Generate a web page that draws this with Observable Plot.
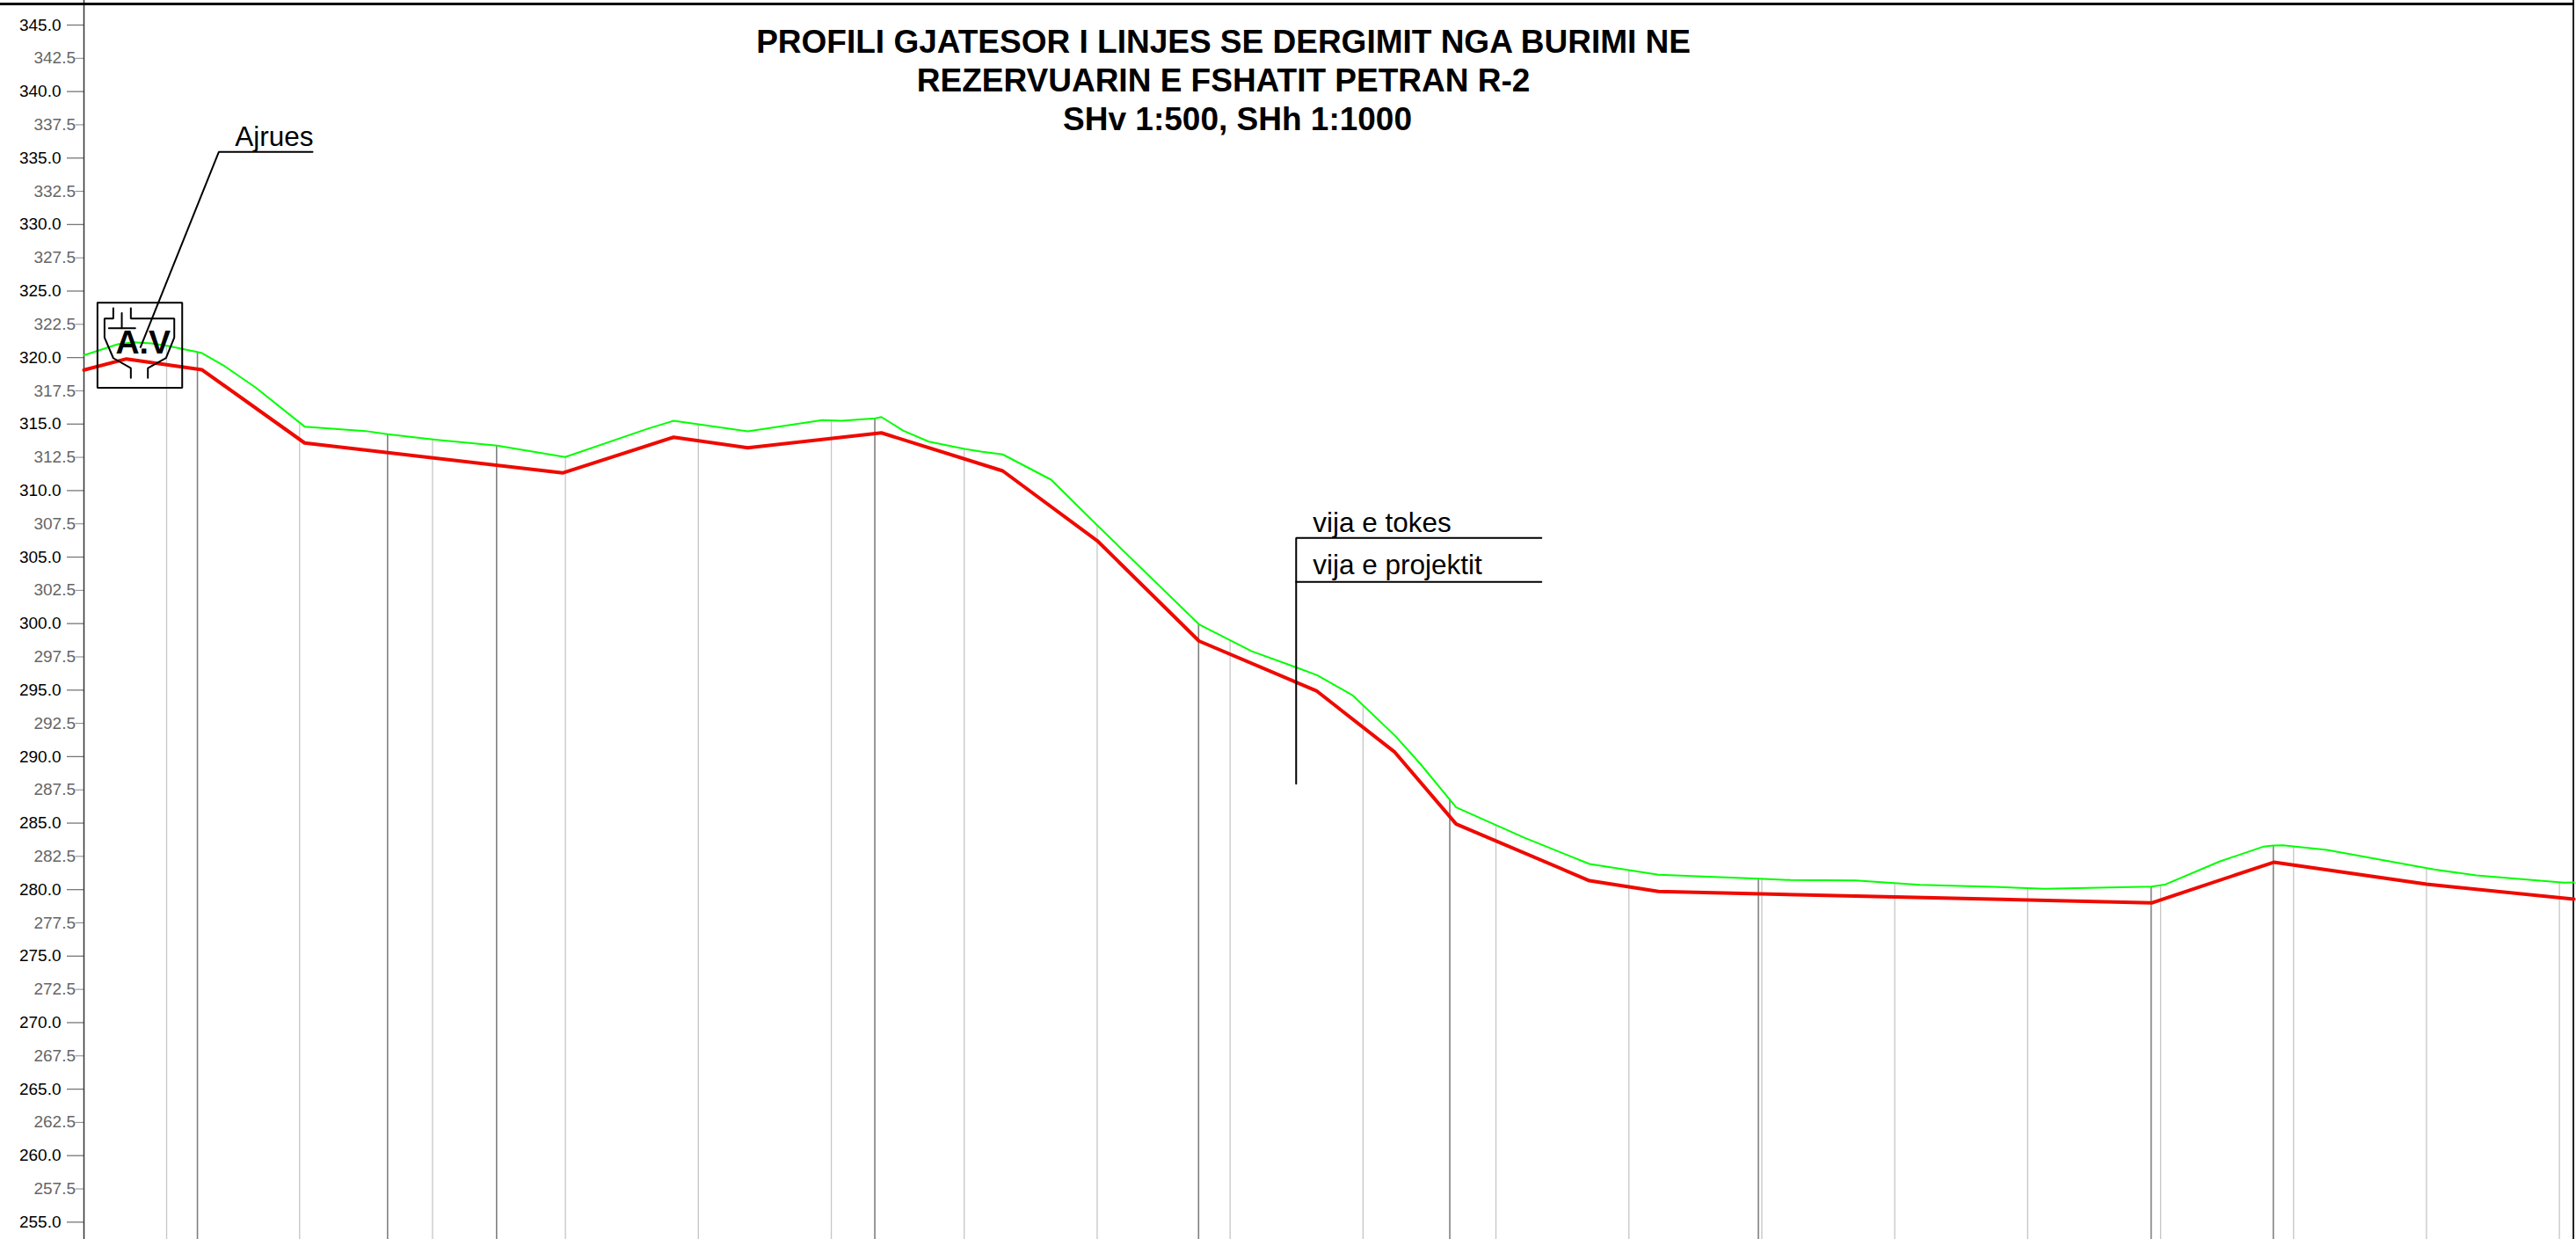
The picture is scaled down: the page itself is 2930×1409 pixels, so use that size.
<!DOCTYPE html>
<html>
<head>
<meta charset="utf-8">
<style>
html,body{margin:0;padding:0;background:#fff;overflow:hidden}
svg{display:block}
</style>
<script src="https://cdn.jsdelivr.net/npm/d3@7"></script>
<script src="https://cdn.jsdelivr.net/npm/@observablehq/plot@0.6"></script>
</head>
<body>
<div id="chart"></div>
<script>
// Chainage (m) and elevation (m)
const xMin = 7.53, xMax = 382.29, yMin = 253.70, yMax = 346.85;
const frameRight = 381.83;

const projectX = [7.53,13.92,25.29,40.71,79.49,96.20,107.34,127.43,145.67,159.86,175.19,192.83,204.63,213.85,233.89,244.25,318.41,336.78,359.76,381.9];
const projectY = [319.07,319.90,319.08,313.58,311.33,314.01,313.22,314.34,311.48,306.24,298.69,294.95,290.33,284.93,280.67,279.86,279.00,282.06,280.41,279.28];

const groundX = [7.53,12.60,15.03,17.67,20.09,25.16,28.69,33.31,40.71,49.84,53.14,59.75,69.66,79.88,92.36,96.20,107.34,118.57,121.44,126.51,127.43,130.74,134.57,139.95,142.59,145.67,152.94,159.86,175.19,183.12,189.73,192.96,198.25,204.72,208.47,213.85,224.10,233.89,244.25,259.36,264.12,273.90,283.59,294.61,302.32,318.41,320.37,328.62,335.20,336.78,338.14,344.75,360.89,367.25,380.44,381.9];
const groundY = [320.17,321.00,321.15,321.07,320.89,320.36,319.35,317.76,314.81,314.48,314.24,313.86,313.38,312.52,314.66,315.25,314.46,315.30,315.25,315.43,315.53,314.50,313.68,313.13,312.92,312.72,310.82,307.40,299.94,297.92,296.72,296.12,294.62,291.54,289.45,286.18,283.90,281.93,281.12,280.83,280.72,280.69,280.36,280.21,280.06,280.23,280.37,282.11,283.23,283.32,283.34,282.99,281.51,281.07,280.52,280.54];

const stationX = [19.96,39.95,59.94,79.92,99.91,119.90,139.88,159.87,179.86,199.85,219.83,239.82,259.81,279.79,299.78,319.77,339.76,359.74,379.73];
const stationTop = [320.89,314.99,313.86,312.54,314.99,315.28,313.13,307.38,298.76,293.83,284.84,281.47,280.81,280.48,280.11,280.31,283.25,281.60,280.54];

const breakX = [24.59,53.18,69.57,126.44,175.12,212.89,259.29,318.34,336.71];
const breakTop = [320.41,314.24,313.38,315.43,299.94,286.80,280.83,280.23,283.32];

const majorTicks = [345,340,335,330,325,320,315,310,305,300,295,290,285,280,275,270,265,260,255];
const minorTicks = [342.5,337.5,332.5,327.5,322.5,317.5,312.5,307.5,302.5,297.5,292.5,287.5,282.5,277.5,272.5,267.5,262.5,257.5];

const titleLines = ["PROFILI GJATESOR I LINJES SE DERGIMIT NGA BURIMI NE","REZERVUARIN E FSHATIT PETRAN R-2","SHv 1:500, SHh 1:1000"];
const titleX = [178.86,178.86,180.97];
const titleY = [342.92,340.02,337.09];

const labels = ["Ajrues","vija e tokes","vija e projektit"];
const labelX = [30.23,192.30,192.30];
const labelY = [335.90,306.90,303.73];

const leaderAjruesX = [16.03,27.80,41.90];
const leaderAjruesY = [320.78,335.46,335.46];
const leaderVijaX = [226.67,189.79,189.79];
const leaderVijaY = [306.44,306.44,287.97];
const leaderProjX = [189.79,226.67];
const leaderProjY = [303.13,303.13];

const boxX = [9.56,22.30,22.30,9.56,9.56];
const boxY = [324.13,324.13,317.72,317.72,324.13];
const valveLeftX = [11.94,11.94,10.62,10.62,11.94,14.58,14.58];
const valveRightX = [14.58,14.58,21.11,21.11,19.87,17.14,17.14];
const valveY = [323.71,322.94,322.94,321.51,319.96,319.20,318.47];
const stemX = [13.22,13.22];
const stemY = [323.34,322.21];
const barX = [11.28,15.24];
const barY = [322.21,322.21];

const pts = (xs, ys) => xs.map((x, i) => ({x, y: ys[i]}));
const FONT = "'Liberation Sans', Arial, sans-serif";
const blackLine = (xs, ys, w = 2) => Plot.line(pts(xs, ys), {x: "x", y: "y", stroke: "#000", strokeWidth: w, strokeLinejoin: "miter"});

const chart = Plot.plot({
  width: 2930,
  height: 1409,
  marginLeft: 95,
  marginRight: 0,
  marginTop: 0,
  marginBottom: 0,
  style: {fontFamily: FONT, background: "#fff"},
  x: {domain: [xMin, xMax], axis: null},
  y: {domain: [yMin, yMax], axis: null},
  marks: [
    Plot.ruleX(pts(stationX, stationTop), {x: "x", y1: "y", y2: () => yMin, stroke: "#c6c6c6", strokeWidth: 1.3}),
    Plot.ruleX(pts(breakX, breakTop), {x: "x", y1: "y", y2: () => yMin, stroke: "#808080", strokeWidth: 1.6}),
    Plot.axisY({anchor: "left", ticks: majorTicks, tickFormat: d => d.toFixed(1), tickSize: 19, tickPadding: 7, fontSize: 19, fill: "#000", stroke: "#777", strokeWidth: 1.3, label: null}),
    Plot.axisY({anchor: "left", ticks: minorTicks, tickFormat: d => d.toFixed(1), tickSize: 9.5, tickPadding: 0, fontSize: 19, fill: "#666", stroke: "#888", strokeWidth: 1, label: null}),
    Plot.ruleX([xMin], {stroke: "#333", strokeWidth: 1.5}),
    Plot.ruleX([frameRight], {stroke: "#222", strokeWidth: 2}),
    Plot.ruleY([346.59], {stroke: "#000", strokeWidth: 3, insetLeft: -95, insetRight: 2.5}),
    Plot.line(pts(groundX, groundY), {x: "x", y: "y", stroke: "#00ff00", strokeWidth: 2, strokeLinejoin: "round"}),
    Plot.line(pts(projectX, projectY), {x: "x", y: "y", stroke: "#ee0a00", strokeWidth: 4, strokeLinejoin: "round"}),
    blackLine(boxX, boxY),
    blackLine(valveLeftX, valveY),
    blackLine(valveRightX, valveY),
    blackLine(stemX, stemY),
    blackLine(barX, barY),
    Plot.text(["A.V"], {x: [16.42], y: [320.29], text: d => d, fontSize: 37.5, fontWeight: "bold", fill: "#000", lineAnchor: "bottom", textAnchor: "middle"}),
    blackLine(leaderAjruesX, leaderAjruesY),
    blackLine(leaderVijaX, leaderVijaY),
    blackLine(leaderProjX, leaderProjY),
    Plot.text(labels, {x: labelX, y: labelY, text: d => d, fontSize: 31.5, fill: "#000", textAnchor: "start", lineAnchor: "bottom"}),
    Plot.text(titleLines, {x: titleX, y: titleY, text: d => d, fontSize: 37, fontWeight: "bold", fill: "#000", textAnchor: "middle", lineAnchor: "bottom"})
  ]
});
document.getElementById("chart").appendChild(chart);
</script>
</body>
</html>
